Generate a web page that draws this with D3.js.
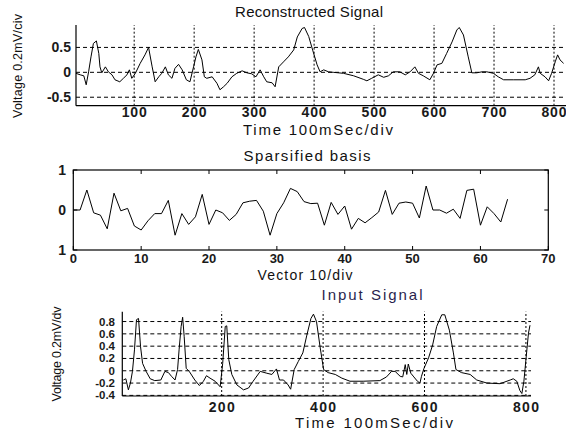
<!DOCTYPE html>
<html>
<head>
<meta charset="utf-8">
<script src="https://cdn.jsdelivr.net/npm/d3@7"></script>
<style>
  body { margin: 0; background: #fff; }
  svg { display: block; font-family: "Liberation Sans", Arial, sans-serif; }
  .tick-lbl { font-size: 14px; font-weight: bold; fill: #1a1a1a; }
  .tick-md { font-size: 13px; font-weight: bold; fill: #1a1a1a; }
  .tick-sm { font-size: 11.5px; font-weight: bold; fill: #1a1a1a; }
  .ttl { font-size: 15px; fill: #111; }
  .ttl-sm { font-size: 14px; fill: #111; }
  .ylbl { font-size: 12.5px; fill: #111; }
</style>
</head>
<body>
<svg id="chart" width="566" height="432"></svg>
<script>
// ---- data ----
const reconX = [3, 10, 16, 20, 24, 28, 32, 37, 41, 43, 46, 52, 57, 63, 68, 76, 82, 88, 92, 96, 102, 110, 118, 124, 130, 135, 141, 146, 152, 157, 163, 168, 174, 180, 187, 193, 199, 203, 207, 213, 217, 221, 230, 238, 243, 249, 255, 263, 271, 280, 288, 296, 303, 310, 316, 321, 330, 335, 341, 349, 357, 366, 372, 380, 384, 391, 398, 405, 410, 416, 424, 432, 449, 466, 482, 488, 496, 507, 516, 524, 532, 543, 552, 560, 568, 574, 582, 593, 599, 605, 613, 621, 630, 638, 642, 649, 657, 663, 671, 680, 688, 699, 707, 716, 732, 752, 760, 768, 774, 777, 785, 791, 796, 802, 806, 810, 816];
const reconY = [-0.02, -0.05, -0.07, -0.25, 0.01, 0.31, 0.58, 0.63, 0.38, 0.11, -0.01, 0.11, 0.01, -0.05, -0.15, -0.19, -0.12, -0.05, 0.05, -0.12, -0.02, 0.18, 0.35, 0.5, 0.11, -0.19, -0.09, -0.02, 0.11, -0.05, -0.12, 0.08, 0.16, 0.05, -0.15, -0.19, 0.11, 0.31, 0.46, 0.25, -0.09, -0.12, -0.09, -0.22, -0.35, -0.29, -0.22, -0.09, -0.02, 0.03, -0.01, -0.03, -0.09, 0.05, -0.09, -0.19, -0.21, -0.29, 0.11, 0.21, 0.31, 0.45, 0.71, 0.88, 0.9, 0.72, 0.43, 0.15, 0.01, 0.05, 0.01, 0, -0.02, -0.07, -0.14, -0.17, -0.12, -0.05, -0.1, -0.07, 0.01, 0.01, -0.05, 0.01, 0.11, -0.02, -0.07, -0.15, -0.02, 0.15, 0.18, 0.38, 0.61, 0.85, 0.9, 0.75, 0.31, -0.01, -0.01, 0.01, 0.01, -0.02, -0.09, -0.15, -0.15, -0.15, -0.12, -0.05, 0.11, -0.02, -0.09, -0.17, -0.02, 0.21, 0.35, 0.25, 0.18];

const basis = [0, 0, 0.5, -0.07, -0.13, -0.47, 0.42, -0.02, 0.04, -0.4, -0.5, -0.27, -0.09, -0.09, 0.24, -0.63, -0.09, -0.36, -0.17, 0.39, -0.36, 0, -0.07, -0.26, -0.11, 0.18, 0.22, 0.24, -0.03, -0.63, -0.09, 0.18, 0.54, 0.46, 0.21, 0.16, 0.17, -0.38, 0.19, -0.11, 0.1, -0.48, -0.21, -0.32, -0.19, -0.05, 0.49, -0.11, 0.17, 0.2, 0.17, -0.2, 0.6, 0, 0, -0.08, 0.02, -0.21, 0.49, 0.52, -0.38, 0.08, -0.09, -0.3, 0.27];

const inputX = [6, 11, 16, 20, 24, 28, 32, 36, 40, 44, 51, 59, 68, 80, 88, 95, 101, 108, 113, 116, 120, 123, 126, 130, 136, 147, 156, 164, 170, 177, 187, 197, 202, 207, 210, 214, 220, 230, 243, 253, 262, 276, 289, 299, 308, 314, 322, 331, 336, 343, 351, 360, 368, 376, 381, 387, 394, 401, 410, 424, 437, 453, 479, 512, 525, 535, 542, 552, 557, 562, 565, 568, 573, 579, 586, 591, 594, 599, 608, 616, 624, 634, 640, 649, 657, 662, 673, 690, 703, 723, 749, 769, 775, 782, 788, 792, 796, 800, 805, 808];
const inputY = [-0.15, -0.13, -0.31, -0.2, -0.01, 0.34, 0.83, 0.85, 0.39, 0.12, -0.01, -0.13, -0.16, -0.15, -0.01, -0.03, -0.09, -0.15, 0.02, 0.34, 0.72, 0.87, 0.56, 0.04, -0.01, -0.15, -0.24, -0.17, -0.08, -0.12, -0.17, -0.26, 0.12, 0.72, 0.73, 0.18, -0.06, -0.23, -0.31, -0.28, -0.17, -0.01, -0.04, -0.06, 0.03, -0.15, -0.15, -0.23, -0.3, 0.02, 0.15, 0.29, 0.58, 0.85, 0.92, 0.8, 0.39, 0.02, -0.03, -0.06, -0.12, -0.17, -0.17, -0.16, -0.1, -0.01, -0.01, -0.09, -0.1, 0.1, -0.06, 0.11, -0.04, -0.1, -0.17, -0.2, -0.09, 0.04, 0.21, 0.42, 0.72, 0.91, 0.91, 0.66, 0.29, 0.02, -0.03, -0.06, -0.15, -0.2, -0.21, -0.15, -0.13, -0.17, -0.32, -0.37, -0.17, 0.18, 0.61, 0.74];

const reconXTicks = [100, 200, 300, 400, 500, 600, 700, 800];
const reconYTicks = [0.5, 0, -0.5];
const basisXTicks = [0, 10, 20, 30, 40, 50, 60, 70];
const basisYTicks = [1, 0, -1];
const inputXTicks = [200, 400, 600, 800];
const inputYTicks = [0.8, 0.6, 0.4, 0.2, 0, -0.2, -0.4];

const svg = d3.select("#chart");

// 共用：畫一條訊號線
function drawLine(g, xs, ys, x, y) {
  const pts = xs.map((v, i) => [v, ys[i]]);
  g.append("path")
    .datum(pts)
    .attr("fill", "none")
    .attr("stroke", "#000")
    .attr("stroke-width", 1)
    .attr("d", d3.line().x(d => x(d[0])).y(d => y(d[1])));
}

// 文字：可指定寬度（textLength）讓字距接近原圖
function text(x, y, s, cls, anchor, len, rot) {
  const t = svg.append("text")
    .attr("class", cls)
    .attr("text-anchor", anchor || "middle")
    .text(s);
  if (len) t.attr("textLength", len).attr("lengthAdjust", "spacing");
  if (rot) t.attr("transform", `translate(${x},${y}) rotate(-90)`);
  else t.attr("x", x).attr("y", y);
  return t;
}

const fmt = v => String(v);

// ---------- Reconstructed Signal ----------
{
  const x = d3.scaleLinear().domain([3, 820]).range([76, 566]);
  const y = d3.scaleLinear().domain([-0.67, 0.95]).range([105.7, 25]);
  const g = svg.append("g");

  g.selectAll(".hg").data(reconYTicks).enter().append("line")
    .attr("x1", x.range()[0]).attr("x2", x.range()[1])
    .attr("y1", d => y(d)).attr("y2", d => y(d))
    .attr("stroke", "#000").attr("stroke-width", 1).attr("stroke-dasharray", "4,3");
  g.selectAll(".vg").data(reconXTicks).enter().append("line")
    .attr("x1", d => x(d)).attr("x2", d => x(d))
    .attr("y1", y.range()[0]).attr("y2", y.range()[1])
    .attr("stroke", "#000").attr("stroke-width", 1).attr("stroke-dasharray", "2,2");

  drawLine(g, reconX, reconY, x, y);

  g.append("line").attr("x1", 76).attr("x2", 76).attr("y1", 25).attr("y2", 105.7)
    .attr("stroke", "#000").attr("stroke-width", 1.2);
  g.append("line").attr("x1", 76).attr("x2", 566).attr("y1", 105.7).attr("y2", 105.7)
    .attr("stroke", "#000").attr("stroke-width", 1.2);

  reconYTicks.forEach(v => text(71, y(v) + 5, fmt(v), "tick-lbl", "end"));
  reconXTicks.forEach(v => text(x(v), 117, v, "tick-lbl", "middle", 25));

  text(309, 17, "Reconstructed Signal", "ttl", "middle", 148);
  text(318, 135, "Time 100mSec/div", "ttl", "middle", 150);
  text(22, 66, "Voltage 0.2mV/civ", "ylbl", "middle", 104, true);
}

// ---------- Sparsified basis ----------
{
  const x = d3.scaleLinear().domain([0, 70]).range([73.3, 548.3]);
  const y = d3.scaleLinear().domain([-1, 1]).range([250, 170]);
  const g = svg.append("g");

  drawLine(g, d3.range(basis.length), basis, x, y);

  g.append("rect").attr("x", 73.3).attr("y", 170).attr("width", 475).attr("height", 80)
    .attr("fill", "none").attr("stroke", "#000").attr("stroke-width", 1.2);

  // 內側刻度
  basisXTicks.forEach(v => {
    g.append("line").attr("x1", x(v)).attr("x2", x(v)).attr("y1", 250).attr("y2", 246).attr("stroke", "#000");
    g.append("line").attr("x1", x(v)).attr("x2", x(v)).attr("y1", 170).attr("y2", 174).attr("stroke", "#000");
  });
  basisYTicks.forEach(v => {
    g.append("line").attr("x1", 73.3).attr("x2", 77.3).attr("y1", y(v)).attr("y2", y(v)).attr("stroke", "#000");
    g.append("line").attr("x1", 548.3).attr("x2", 544.3).attr("y1", y(v)).attr("y2", y(v)).attr("stroke", "#000");
  });

  basisYTicks.forEach(v => text(66, y(v) + 5, Math.abs(v), "tick-lbl", "end"));
  basisXTicks.forEach(v => text(x(v), 263, v, "tick-md", "middle"));

  text(307, 161, "Sparsified basis", "ttl", "middle", 127);
  text(305, 280, "Vector 10/div", "ttl-sm", "middle", 95);
}

// ---------- Input Signal ----------
{
  const x = d3.scaleLinear().domain([4, 810]).range([122.3, 531]);
  const y = d3.scaleLinear().domain([-0.41, 0.96]).range([396, 311.7]);
  const g = svg.append("g");

  g.selectAll(".hg").data(inputYTicks).enter().append("line")
    .attr("x1", x.range()[0]).attr("x2", x.range()[1])
    .attr("y1", d => y(d)).attr("y2", d => y(d))
    .attr("stroke", "#000").attr("stroke-width", 1).attr("stroke-dasharray", "4,3");
  g.selectAll(".vg").data(inputXTicks).enter().append("line")
    .attr("x1", d => x(d)).attr("x2", d => x(d))
    .attr("y1", y.range()[0]).attr("y2", y.range()[1])
    .attr("stroke", "#000").attr("stroke-width", 1).attr("stroke-dasharray", "2,2");

  drawLine(g, inputX, inputY, x, y);

  g.append("line").attr("x1", 122.3).attr("x2", 122.3).attr("y1", 311.7).attr("y2", 396)
    .attr("stroke", "#000").attr("stroke-width", 1.2);
  g.append("line").attr("x1", 122.3).attr("x2", 531).attr("y1", 396).attr("y2", 396)
    .attr("stroke", "#000").attr("stroke-width", 1.2);

  inputYTicks.forEach(v => text(115, y(v) + 4, fmt(v), "tick-sm", "end"));
  inputXTicks.forEach(v => text(x(v), 412, v, "tick-lbl", "middle", 26));

  text(372, 300, "Input Signal", "ttl", "middle", 101).style("fill", "#2a1f4d");
  text(374, 428, "Time 100mSec/div", "ttl", "middle", 158);
  text(61, 354, "Voltage 0.2mV/dv", "ylbl", "middle", 95, true);
}
</script>
</body>
</html>
